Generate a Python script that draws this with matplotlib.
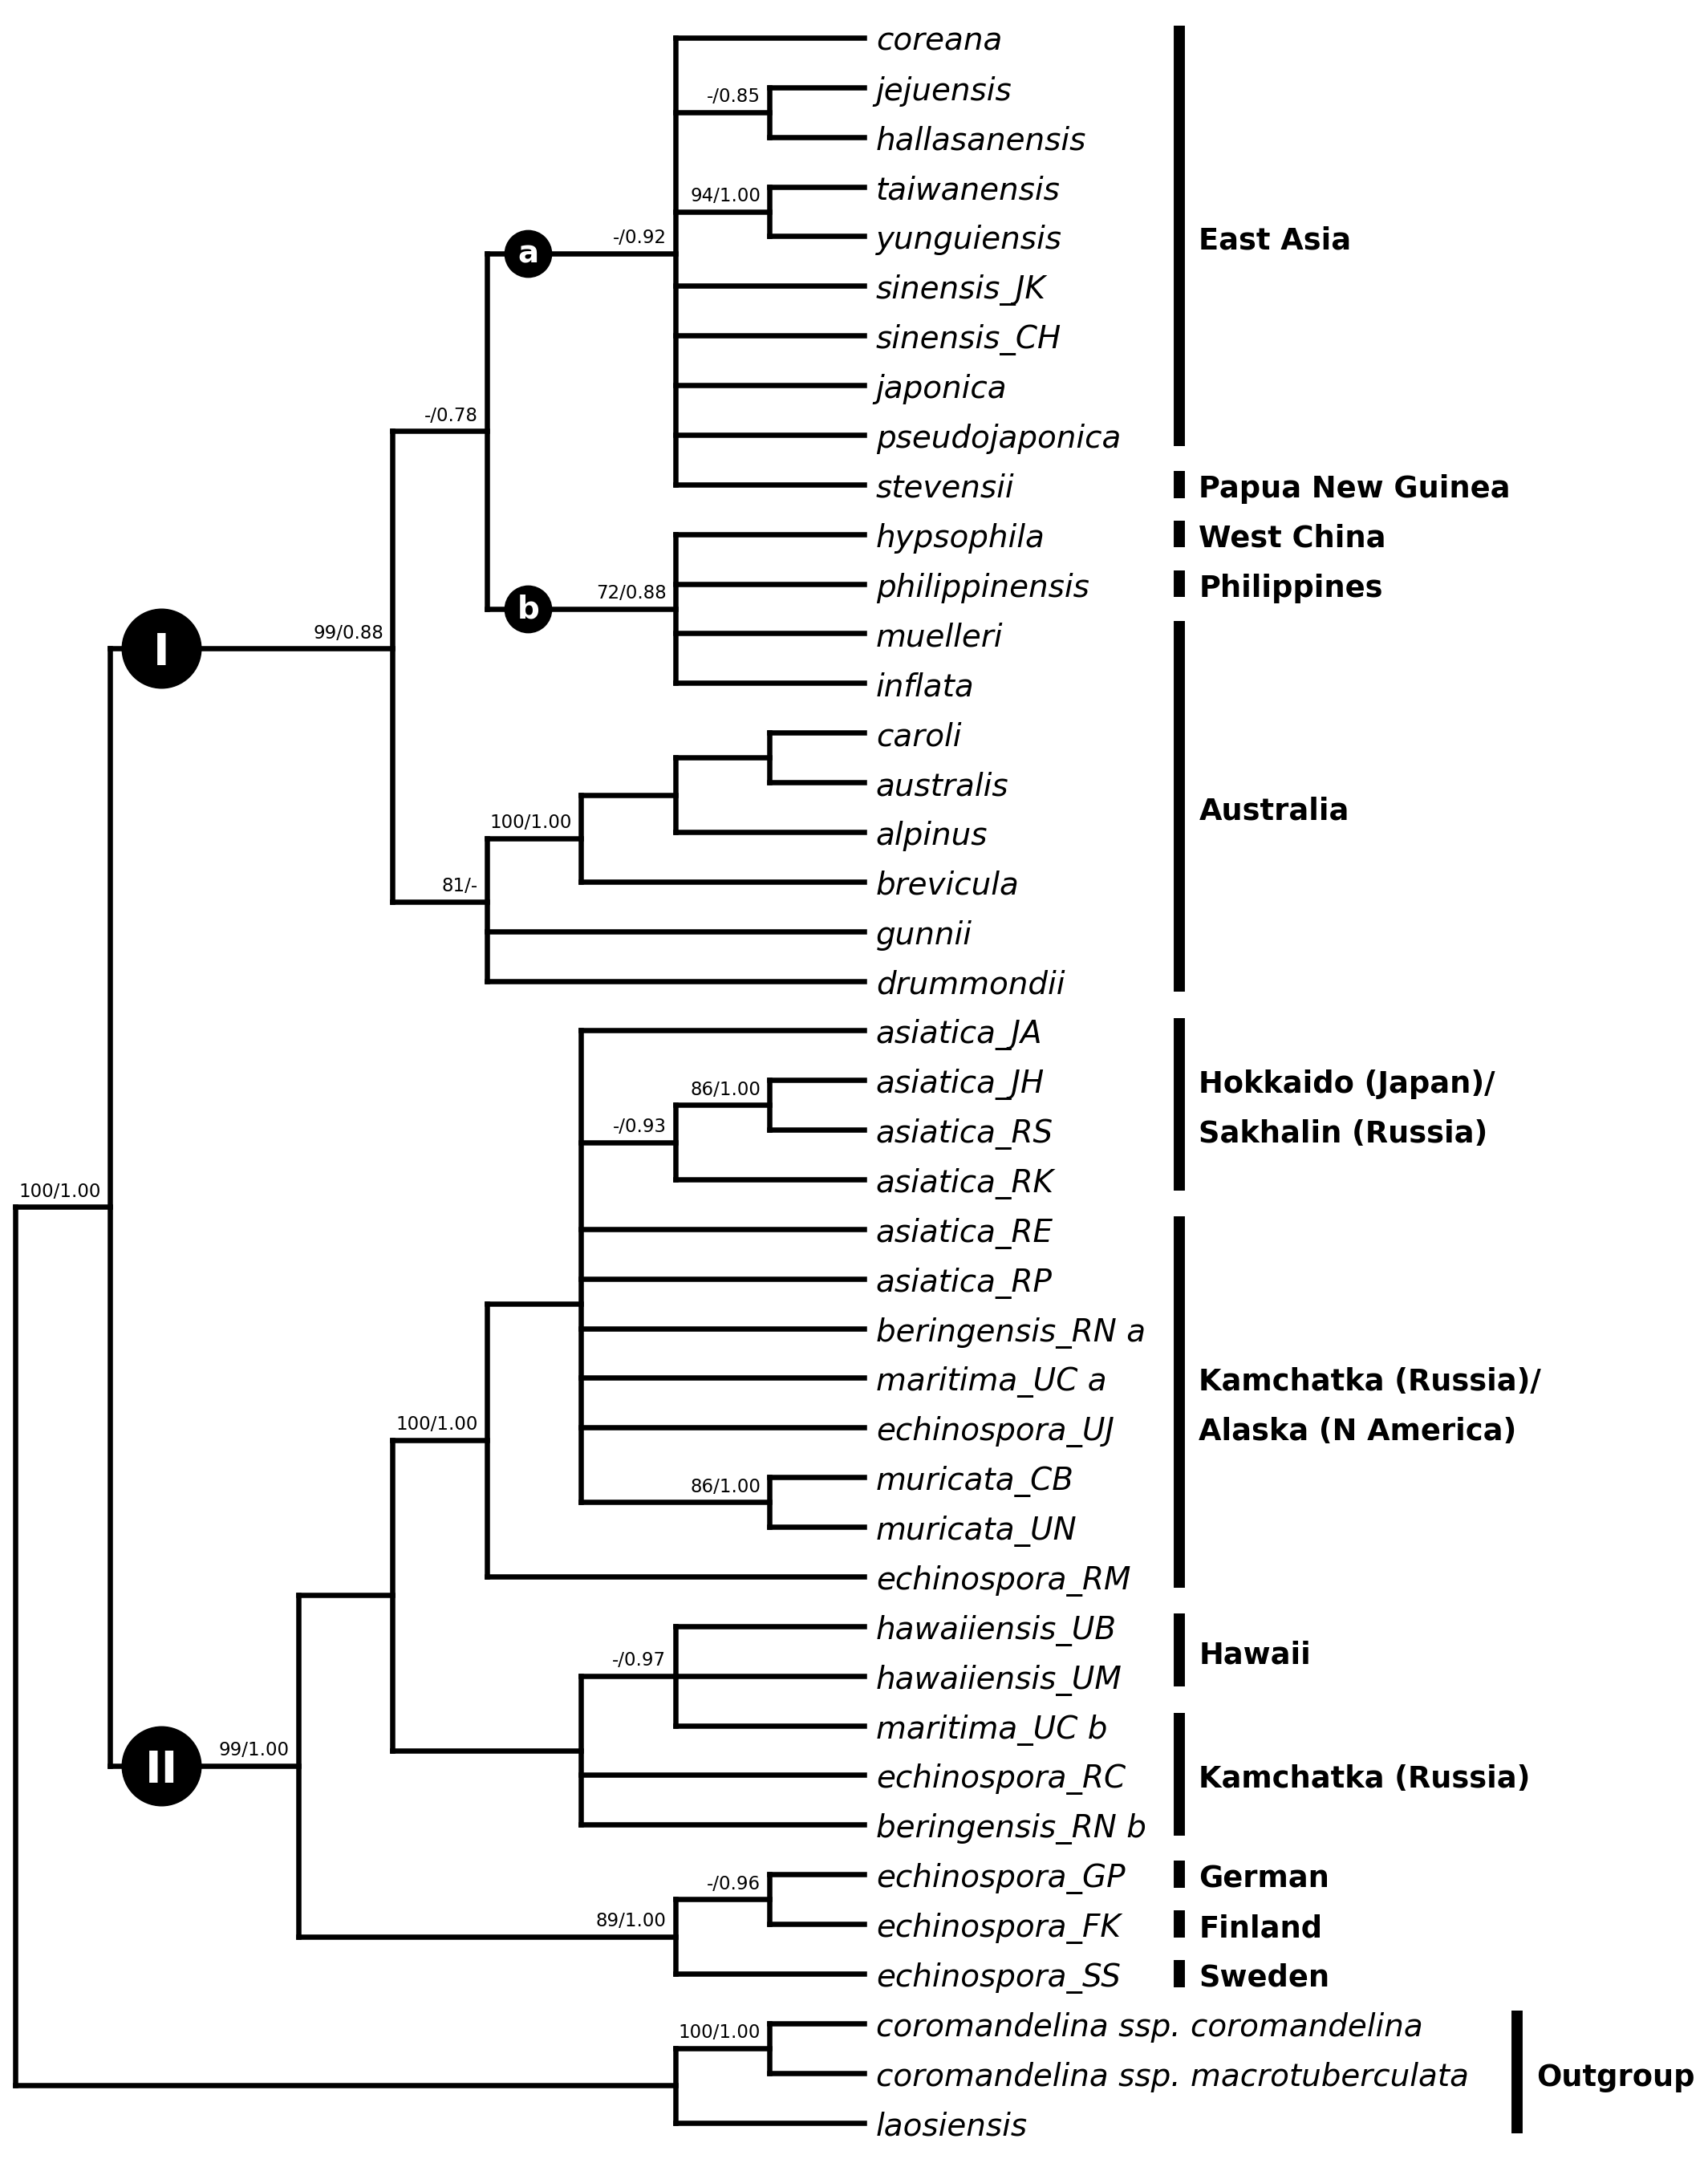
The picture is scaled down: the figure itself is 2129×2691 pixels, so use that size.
import matplotlib.pyplot as plt

# tip names, top to bottom
leaves = [
    "coreana", "jejuensis", "hallasanensis", "taiwanensis", "yunguiensis",
    "sinensis_JK", "sinensis_CH", "japonica", "pseudojaponica", "stevensii",
    "hypsophila", "philippinensis", "muelleri", "inflata", "caroli",
    "australis", "alpinus", "brevicula", "gunnii", "drummondii",
    "asiatica_JA", "asiatica_JH", "asiatica_RS", "asiatica_RK", "asiatica_RE",
    "asiatica_RP", "beringensis_RN a", "maritima_UC a", "echinospora_UJ",
    "muricata_CB", "muricata_UN", "echinospora_RM", "hawaiiensis_UB",
    "hawaiiensis_UM", "maritima_UC b", "echinospora_RC", "beringensis_RN b",
    "echinospora_GP", "echinospora_FK", "echinospora_SS",
    "coromandelina ssp. coromandelina", "coromandelina ssp. macrotuberculata",
    "laosiensis",
]
tip_level = 9

# internal nodes: name -> (depth level, children)
nodes = {
    "root": (0, ["ingroup", "outgroup"]),
    "ingroup": (1, ["I", "II"]),
    "I": (4, ["ab", "aus"]),
    "ab": (5, ["a", "b"]),
    "a": (7, ["coreana", "jh", "ty", "sinensis_JK", "sinensis_CH", "japonica",
              "pseudojaponica", "stevensii"]),
    "jh": (8, ["jejuensis", "hallasanensis"]),
    "ty": (8, ["taiwanensis", "yunguiensis"]),
    "b": (7, ["hypsophila", "philippinensis", "muelleri", "inflata"]),
    "aus": (5, ["aus1", "gunnii", "drummondii"]),
    "aus1": (6, ["aus2", "brevicula"]),
    "aus2": (7, ["ca", "alpinus"]),
    "ca": (8, ["caroli", "australis"]),
    "II": (3, ["II1", "eur"]),
    "II1": (4, ["kam", "hawp"]),
    "kam": (5, ["poly", "echinospora_RM"]),
    "poly": (6, ["asiatica_JA", "hok", "asiatica_RE", "asiatica_RP",
                 "beringensis_RN a", "maritima_UC a", "echinospora_UJ", "mur"]),
    "hok": (7, ["jhrs", "asiatica_RK"]),
    "jhrs": (8, ["asiatica_JH", "asiatica_RS"]),
    "mur": (8, ["muricata_CB", "muricata_UN"]),
    "hawp": (6, ["haw", "echinospora_RC", "beringensis_RN b"]),
    "haw": (7, ["hawaiiensis_UB", "hawaiiensis_UM", "maritima_UC b"]),
    "eur": (7, ["gf", "echinospora_SS"]),
    "gf": (8, ["echinospora_GP", "echinospora_FK"]),
    "outgroup": (7, ["cc", "laosiensis"]),
    "cc": (8, ["coromandelina ssp. coromandelina",
               "coromandelina ssp. macrotuberculata"]),
}

# node rows read off the figure where they are not centred on their children
node_rows = {"a": 4.34, "I": 12.3, "aus": 17.4, "poly": 25.5}

# bootstrap / posterior support
support = {
    "jh": "-/0.85", "ty": "94/1.00", "a": "-/0.92", "ab": "-/0.78",
    "b": "72/0.88", "I": "99/0.88", "aus1": "100/1.00", "aus": "81/-",
    "ingroup": "100/1.00", "jhrs": "86/1.00", "hok": "-/0.93",
    "mur": "86/1.00", "kam": "100/1.00", "haw": "-/0.97", "II": "99/1.00",
    "gf": "-/0.96", "eur": "89/1.00", "cc": "100/1.00",
}

big_circles = ["I", "II"]
small_circles = ["a", "b"]

region_names = [
    "East Asia", "Papua New Guinea", "West China", "Philippines", "Australia",
    "Hokkaido (Japan)/\nSakhalin (Russia)",
    "Kamchatka (Russia)/\nAlaska (N America)",
    "Hawaii", "Kamchatka (Russia)", "German", "Finland", "Sweden", "Outgroup",
]
region_first = ["coreana", "stevensii", "hypsophila", "philippinensis",
                "muelleri", "asiatica_JA", "asiatica_RE", "hawaiiensis_UB",
                "maritima_UC b", "echinospora_GP", "echinospora_FK",
                "echinospora_SS", "coromandelina ssp. coromandelina"]
region_last = ["pseudojaponica", "stevensii", "hypsophila", "philippinensis",
               "drummondii", "asiatica_RK", "echinospora_RM", "hawaiiensis_UM",
               "beringensis_RN b", "echinospora_GP", "echinospora_FK",
               "echinospora_SS", "laosiensis"]

# ---- layout
pos = {}
for i, name in enumerate(leaves):
    pos[name] = (tip_level, i)

parent = {}
for name, (lev, kids) in nodes.items():
    for k in kids:
        parent[k] = name


def place(name):
    if name in pos:
        return pos[name]
    lev, kids = nodes[name]
    ys = [place(k)[1] for k in kids]
    y = node_rows.get(name, (min(ys) + max(ys)) / 2)
    pos[name] = (lev, y)
    return pos[name]


place("root")

W, H = 2129, 2691
x0, dx = 19, 117.5
y0, dy = 47, 61.87
LW = 4.7

fig = plt.figure(figsize=(W / 100, H / 100), dpi=100)
ax = fig.add_axes([0, 0, 1, 1])
ax.set_xlim(-x0 / dx, (W - x0) / dx)
ax.set_ylim((H - y0) / dy, -y0 / dy)
ax.axis("off")

for name, (lev, kids) in nodes.items():
    x, y = pos[name]
    ys = [pos[k][1] for k in kids]
    ax.plot([x, x], [min(ys), max(ys)], color="black", lw=LW,
            solid_capstyle="projecting")
    for k in kids:
        kx, ky = pos[k]
        ax.plot([x, kx], [ky, ky], color="black", lw=LW,
                solid_capstyle="projecting")

for name, txt in support.items():
    x, y = pos[name]
    ax.annotate(txt, xy=(x, y), xytext=(-8, 9), textcoords="offset points",
                ha="right", va="baseline", fontsize=16.5)

for name in big_circles:
    x, y = pos[name]
    cx = pos[parent[name]][0] + 0.55
    ax.scatter([cx], [y], s=71 ** 2, color="black", zorder=5)
    ax.text(cx, y, name, color="white", fontsize=40, fontweight="bold",
            ha="center", va="center_baseline", zorder=6)

for name in small_circles:
    x, y = pos[name]
    cx = pos[parent[name]][0] + 0.44
    ax.scatter([cx], [y], s=42 ** 2, color="black", zorder=5)
    ax.text(cx, y - 0.05, name, color="white", fontsize=28, fontweight="bold",
            ha="center", va="center_baseline", zorder=6)

for i, name in enumerate(leaves):
    ax.annotate(name, xy=(tip_level, i), xytext=(11, -11.5),
                textcoords="offset points", ha="left", va="baseline",
                fontsize=28, style="italic")

bar_x = 12.35
out_bar_x = 15.93
for label, first, last in zip(region_names, region_first, region_last):
    r0 = leaves.index(first)
    r1 = leaves.index(last)
    bx = out_bar_x if label == "Outgroup" else bar_x
    if r0 == r1:
        top, bot = r0 - 0.27, r1 + 0.27
    else:
        top, bot = r0 - 0.25, r1 + 0.22
    ax.plot([bx, bx], [top, bot], color="black", lw=10, solid_capstyle="butt")
    lines = label.split("\n")
    mid = (r0 + r1) / 2
    for j, line in enumerate(lines):
        row = mid - (len(lines) - 1) / 2 + j
        ax.annotate(line, xy=(bx, row), xytext=(17.5, -11.5),
                    textcoords="offset points", ha="left", va="baseline",
                    fontsize=26.5, fontweight="bold")

fig.savefig("out.png", dpi=100, facecolor="white")
